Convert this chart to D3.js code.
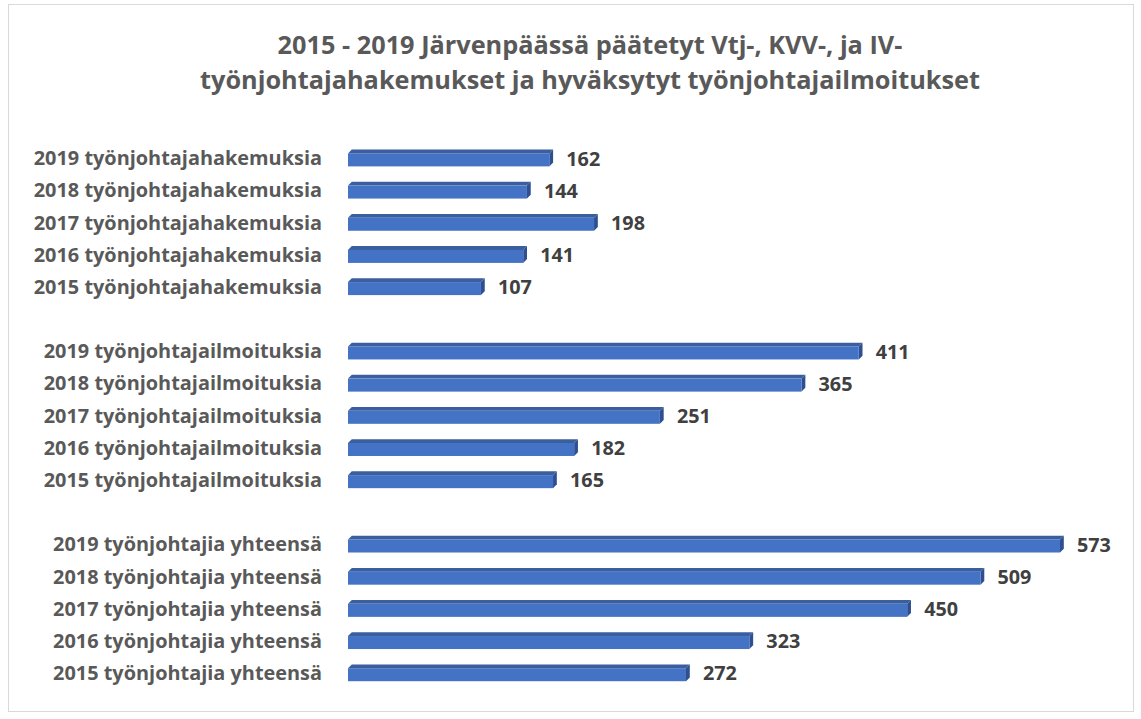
<!DOCTYPE html>
<html>
<head>
<meta charset="utf-8">
<script src="https://cdn.jsdelivr.net/npm/d3@7"></script>
<style>
  body { margin: 0; background: #fff; }
  text { font-family: "Open Sans", sans-serif; font-weight: bold; }
</style>
</head>
<body>
<div id="chart"></div>
<script>
const width = 1141;
const height = 719;

// Data (years top to bottom within each group)
const years = ['2019', '2018', '2017', '2016', '2015'];
const groupNames = ['työnjohtajahakemuksia', 'työnjohtajailmoituksia', 'työnjohtajia yhteensä'];
const hakemuksia = [162, 144, 198, 141, 107];
const ilmoituksia = [411, 365, 251, 182, 165];
const yhteensa = [573, 509, 450, 323, 272];
const titleLines = [
  '2015 - 2019 Järvenpäässä päätetyt Vtj-, KVV-, ja IV-',
  'työnjohtajahakemukset ja hyväksytyt työnjohtajailmoitukset'
];

// Build rows, with an empty row between groups
const groupValues = [hakemuksia, ilmoituksia, yhteensa];
const rows = [];
groupNames.forEach(function (g, gi) {
  years.forEach(function (y, i) {
    rows.push({ id: g + y, label: y + ' ' + g, value: groupValues[gi][i] });
  });
  if (gi < groupNames.length - 1) rows.push({ id: 'gap' + gi, label: '', value: null });
});

const svg = d3.select('#chart')
  .append('svg')
  .attr('width', width)
  .attr('height', height);

// Chart area border
svg.append('rect')
  .attr('x', 8.5).attr('y', 4.5)
  .attr('width', 1125).attr('height', 707)
  .attr('fill', '#fff')
  .attr('stroke', '#d9d9d9');

// Title
svg.append('g').selectAll('text')
  .data(titleLines)
  .enter()
  .append('text')
  .attr('x', 590)
  .attr('y', function (d, i) { return 54 + i * 35; })
  .attr('text-anchor', 'middle')
  .attr('font-size', 25.3)
  .attr('fill', '#595959')
  .text(function (d) { return d; });

const x = d3.scaleLinear()
  .domain([0, 600])
  .range([348, 348 + 600 * 1.2426]);

const y = d3.scaleBand()
  .domain(rows.map(function (d) { return d.id; }))
  .range([142, 689]);

// Category labels
svg.append('g').selectAll('text')
  .data(rows.filter(function (d) { return d.value !== null; }))
  .enter()
  .append('text')
  .attr('x', 322)
  .attr('y', function (d) { return y(d.id) + y.bandwidth() / 2; })
  .attr('dy', '0.36em')
  .attr('text-anchor', 'end')
  .attr('font-size', 19.9)
  .attr('fill', '#595959')
  .text(function (d) { return d.label; });

// 3D bars
const barH = 13;
const depth = 3.8;
const bars = svg.append('g').selectAll('g')
  .data(rows.filter(function (d) { return d.value !== null; }))
  .enter()
  .append('g');

function barTop(d) { return y(d.id) + y.bandwidth() / 2 - barH / 2 + 1.8; }

// top face
bars.append('path')
  .attr('fill', '#3b5f9e')
  .attr('d', function (d) {
    const x0 = x(0), x1 = x(d.value), t = barTop(d);
    return 'M' + x0 + ',' + t + 'L' + (x0 + depth) + ',' + (t - depth) +
      'L' + (x1 + depth) + ',' + (t - depth) + 'L' + x1 + ',' + t + 'Z';
  });

// side face
bars.append('path')
  .attr('fill', '#2f5090')
  .attr('d', function (d) {
    const x1 = x(d.value), t = barTop(d);
    return 'M' + x1 + ',' + t + 'L' + (x1 + depth) + ',' + (t - depth) +
      'L' + (x1 + depth) + ',' + (t + barH - depth) + 'L' + x1 + ',' + (t + barH) + 'Z';
  });

// front face
bars.append('rect')
  .attr('x', x(0))
  .attr('y', barTop)
  .attr('width', function (d) { return x(d.value) - x(0); })
  .attr('height', barH)
  .attr('fill', '#4472c4');

// Value labels
svg.append('g').selectAll('text')
  .data(rows.filter(function (d) { return d.value !== null; }))
  .enter()
  .append('text')
  .attr('x', function (d) { return x(d.value) + 17; })
  .attr('y', function (d) { return y(d.id) + y.bandwidth() / 2; })
  .attr('dy', '0.38em')
  .attr('font-size', 19.8)
  .attr('fill', '#404040')
  .text(function (d) { return d.value; });
</script>
</body>
</html>
